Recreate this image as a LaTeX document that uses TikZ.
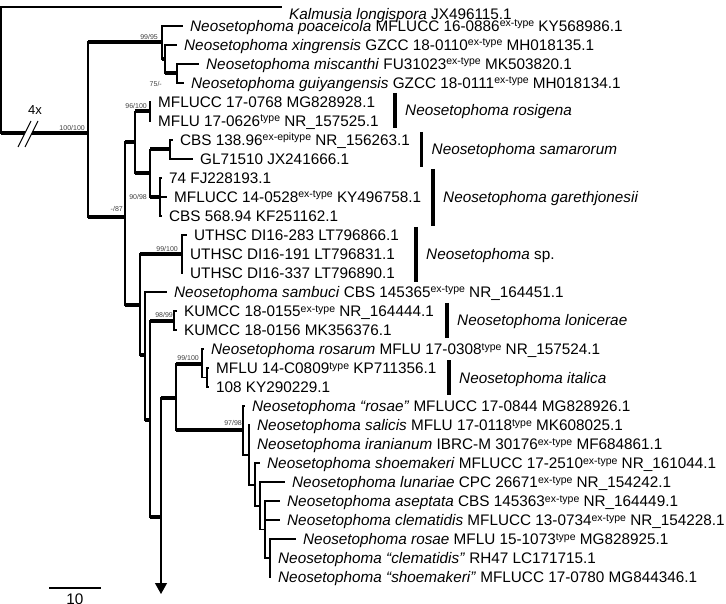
\documentclass[tikz,border=0pt]{standalone}
\usepackage{fontspec}
\setmainfont{Liberation Sans}
\usepackage{tikz}
\usetikzlibrary{arrows.meta}
\newcommand{\statut}[1]{\raisebox{4.5pt}{\fontsize{10.5}{11}\selectfont\upshape #1}}
\tikzset{
feuille/.style = {anchor=west, inner xsep=8pt, inner ysep=0pt, text height=11pt, text depth=0pt,
font=\fontsize{15.3}{18}\selectfont},% feuille, nom de souche
br_f/.style = {line width=1.1pt, line cap=rect},% branche fine
br_e/.style = {line width=4pt},% branche epaisse, soutien fort
soutien/.style = {anchor=east, inner sep=0pt, text=black!75, font=\fontsize{7}{8}\selectfont},% valeurs de soutien
barre/.style = {line width=3.5pt},% barre d'espece
espece/.style = {anchor=west, inner xsep=10pt, inner ysep=0pt, text height=11pt, text depth=0pt,
font=\fontsize{15.3}{18}\selectfont\itshape}% nom d'espece
}
\begin{document}
\begin{tikzpicture}[x=1pt, y=-1pt]
\useasboundingbox (0,0) rectangle (726,604);
% noeuds internes
\foreach \nn/\xx/\yy in {rac/1/7, in/88/133, poa/162/42, xin/165/59, mis/177/73.5, 87/125/217,
  b/135/142, ros/150/111.5, c/150/173, sam/170/149.5, gar/160/197, f/140/305, uth/182/254,
  h/145/355, i/150/420, lon/174/320.5, j/161/517, k/176/398, ita/202/363.5, ita2/207/377.5,
  n/243/430, o/249/455, p/255/485, q/260/506, r/265/529.5, s/270/558}
  \coordinate (n_\nn) at (\xx,\yy);
\coordinate (fl) at (161,594);
% feuilles
\node[feuille, yshift=-7.5pt] (t1) at (281,7) {\textit{Kalmusia longispora} JX496115.1};
\foreach \rg/\pa/\xx/\txt in {
  2/poa/182/{\textit{Neosetophoma poaceicola} MFLUCC 16-0886\statut{ex-type} KY568986.1},
  3/xin/176/{\textit{Neosetophoma xingrensis} GZCC 18-0110\statut{ex-type} MH018135.1},
  4/mis/198/{\textit{Neosetophoma miscanthi} FU31023\statut{ex-type} MK503820.1},
  5/mis/183/{\textit{Neosetophoma guiyangensis} GZCC 18-0111\statut{ex-type} MH018134.1},
  6/ros/150/{MFLUCC 17-0768 MG828928.1},
  7/ros/150/{MFLU 17-0626\statut{type} NR\_157525.1},
  8/sam/172/{CBS 138.96\statut{ex-epitype} NR\_156263.1},
  9/sam/192/{GL71510 JX241666.1},
  10/gar/161/{74 FJ228193.1},
  11/gar/166/{MFLUCC 14-0528\statut{ex-type} KY496758.1},
  12/gar/161/{CBS 568.94 KF251162.1},
  13/uth/186/{UTHSC DI16-283 LT796866.1},
  14/uth/182/{UTHSC DI16-191 LT796831.1},
  15/uth/182/{UTHSC DI16-337 LT796890.1},
  16/h/166/{\textit{Neosetophoma sambuci} CBS 145365\statut{ex-type} NR\_164451.1},
  17/lon/176/{KUMCC 18-0155\statut{ex-type} NR\_164444.1},
  18/lon/176/{KUMCC 18-0156 MK356376.1},
  19/ita/203/{\textit{Neosetophoma rosarum} MFLU 17-0308\statut{type} NR\_157524.1},
  20/ita2/208/{MFLU 14-C0809\statut{type} KP711356.1},
  21/ita2/208/{108 KY290229.1},
  22/n/244/{\textit{Neosetophoma “rosae”} MFLUCC 17-0844 MG828926.1},
  23/o/249/{\textit{Neosetophoma salicis} MFLU 17-0118\statut{type} MK608025.1},
  24/o/249/{\textit{Neosetophoma iranianum} IBRC-M 30176\statut{ex-type} MF684861.1},
  25/p/259/{\textit{Neosetophoma shoemakeri} MFLUCC 17-2510\statut{ex-type} NR\_161044.1},
  26/q/284/{\textit{Neosetophoma lunariae} CPC 26671\statut{ex-type} NR\_154242.1},
  27/r/279/{\textit{Neosetophoma aseptata} CBS 145363\statut{ex-type} NR\_164449.1},
  28/r/279/{\textit{Neosetophoma clematidis} MFLUCC 13-0734\statut{ex-type} NR\_154228.1},
  29/s/295/{\textit{Neosetophoma rosae} MFLU 15-1073\statut{type} MG828925.1},
  30/s/270/{\textit{Neosetophoma “clematidis”} RH47 LC171715.1},
  31/s/270/{\textit{Neosetophoma “shoemakeri”} MFLUCC 17-0780 MG844346.1}}
  {\node[feuille] (t\rg) at (\xx,{19*\rg-12}) {\txt};
   \draw[br_f] (n_\pa |- t\rg) -- (t\rg.west);}
% branches
\draw[br_f] (n_rac) -- (n_rac -| t1.west);
\draw[br_f] (n_rac) -- (n_rac |- n_in);
\draw[br_e] (n_rac |- n_in) -- (n_in);
\foreach \nn/\aa/\bb in {in/n_poa/n_87, poa/t2/n_xin, xin/t3/n_mis, mis/t4/t5, 87/n_b/n_f,
  b/n_ros/n_c, ros/t6/t7, c/n_sam/n_gar, sam/t8/t9, gar/t10/t12, f/n_uth/n_h, uth/t13/t15,
  h/t16/n_i, i/n_lon/n_j, lon/t17/t18, k/n_ita/n_n, ita/t19/n_ita2, ita2/t20/t21,
  n/t22/n_o, o/t23/n_p, p/t25/n_q, q/t26/n_r, r/t27/n_s, s/t29/t31}
  \draw[br_f] (n_\nn |- \aa) -- (n_\nn |- \bb);
\foreach \pa/\ch/\st in {in/poa/br_e, poa/xin/br_e, xin/mis/br_e, in/87/br_e, 87/b/br_e,
  b/ros/br_e, b/c/br_e, c/sam/br_e, c/gar/br_e, 87/f/br_e, f/uth/br_e, f/h/br_e, h/i/br_e,
  i/lon/br_e, i/j/br_e, j/k/br_e, k/ita/br_e, ita/ita2/br_f, k/n/br_e, n/o/br_f, o/p/br_f,
  p/q/br_f, q/r/br_f, r/s/br_f}
  \draw[\st] (n_\pa |- n_\ch) -- (n_\ch);
\draw[br_f, -{Triangle[width=12pt, length=11pt]}] (n_j |- n_k) -- (fl);
% coupure de la branche
\fill[white] (23.5,136) -- (30.5,136) -- (33.5,130) -- (26.5,130) -- cycle;
\draw[br_f, line cap=butt] (18,147) -- (31,121) (25,147) -- (38,121);
\node[font=\fontsize{13}{14}\selectfont, inner sep=0pt] (quatre) at (35,110) {4x};
% soutiens
\node[soutien] (s_in) at (85,128) {100/100};
\node[soutien] (s_poa) at (158,37) {99/95};
\node[soutien] (s_mis) at (162,84) {75/-};
\node[soutien] (s_ros) at (147,106) {96/100};
\node[soutien] (s_87) at (123,209) {-/87};
\node[soutien] (s_gar) at (147,197) {90/98};
\node[soutien] (s_uth) at (178,249) {99/100};
\node[soutien] (s_lon) at (173,315) {98/99};
\node[soutien] (s_ita) at (199,358) {99/100};
\node[soutien] (s_n) at (242,423) {97/98};
% especes
\foreach \nn/\xx/\yy/\hh/\txt in {rosig/395/110.5/17.5/{Neosetophoma rosigena},
  sam/421.5/149.5/17.5/{Neosetophoma samarorum},
  gar/433/197.5/28.5/{Neosetophoma garethjonesii},
  sp/416/254.5/27.5/{Neosetophoma \textup{sp.}},
  lon/447/320.5/17.5/{Neosetophoma lonicerae},
  ita/449/377.5/17.5/{Neosetophoma italica}}
  {\node[espece] (c_\nn) at (\xx,\yy) {\txt};
   \draw[barre] ([yshift=\hh]c_\nn.west) -- ([yshift=-\hh]c_\nn.west);}
% echelle
\draw[br_f, line cap=butt] (49,588) -- (101,588);
\node[inner sep=0pt, text height=11pt, text depth=0pt, font=\fontsize{15.3}{18}\selectfont] (ech) at (75,598.5) {10};
\end{tikzpicture}
\end{document}
